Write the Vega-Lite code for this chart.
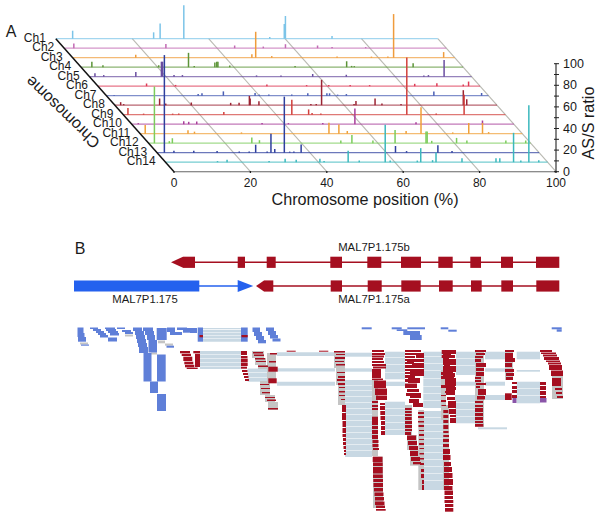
{
"$schema":"https://vega.github.io/schema/vega-lite/v6.json",
"width":600,"height":518,"padding":0,"autosize":{"type":"none"},
"background":"white",
"config":{"view":{"stroke":null},"text":{"font":"Liberation Sans","fill":"#1a1a1a"}},
"datasets":{
"chroms":[{"c":1,"name":"Ch1"},{"c":2,"name":"Ch2"},{"c":3,"name":"Ch3"},{"c":4,"name":"Ch4"},{"c":5,"name":"Ch5"},{"c":6,"name":"Ch6"},{"c":7,"name":"Ch7"},{"c":8,"name":"Ch8"},{"c":9,"name":"Ch9"},{"c":10,"name":"Ch10"},{"c":11,"name":"Ch11"},{"c":12,"name":"Ch12"},{"c":13,"name":"Ch13"},{"c":14,"name":"Ch14"}],
"bars":[
{"c":1,"p":4.4,"r":7.4},{"c":1,"p":25.6,"r":5.9},{"c":1,"p":27.3,"r":14},{"c":1,"p":33.5,"r":31},{"c":1,"p":56,"r":1.6},{"c":1,"p":59.8,"r":13.6},{"c":1,"p":60.1,"r":21},{"c":1,"p":72.3,"r":2.5},
{"c":2,"p":2.5,"r":4.3},{"c":2,"p":26.6,"r":4},{"c":2,"p":44.6,"r":2.5},{"c":2,"p":52.1,"r":1.5},{"c":2,"p":57.9,"r":3.7},{"c":2,"p":66.3,"r":2.5},{"c":2,"p":70.1,"r":1},{"c":2,"p":78.9,"r":1},
{"c":3,"p":16.5,"r":2.8},{"c":3,"p":46.9,"r":3.1},{"c":3,"p":47.9,"r":24},{"c":3,"p":52.1,"r":1.5},{"c":3,"p":69.2,"r":1},{"c":3,"p":78.2,"r":1},{"c":3,"p":82.5,"r":1},{"c":3,"p":84,"r":40.4},{"c":3,"p":97.1,"r":5.2},
{"c":4,"p":2.8,"r":5},{"c":4,"p":5.7,"r":1.8},{"c":4,"p":20.3,"r":1.8},{"c":4,"p":28.1,"r":13.3},{"c":4,"p":29.6,"r":1},{"c":4,"p":35,"r":4.3},{"c":4,"p":35.5,"r":5},{"c":4,"p":35.8,"r":5},{"c":4,"p":38.9,"r":1.5},{"c":4,"p":56,"r":1},{"c":4,"p":69.5,"r":5.5},{"c":4,"p":70.8,"r":1.2},{"c":4,"p":71.5,"r":1},{"c":4,"p":86.9,"r":3.7},
{"c":5,"p":1.4,"r":3.1},{"c":5,"p":3.7,"r":1.5},{"c":5,"p":12.1,"r":4.3},{"c":5,"p":18.8,"r":13.9},{"c":5,"p":19.1,"r":13.9},{"c":5,"p":22.1,"r":1.5},{"c":5,"p":24.3,"r":1.5},{"c":5,"p":43.7,"r":1.2},{"c":5,"p":50.1,"r":1},{"c":5,"p":58.4,"r":2.5},{"c":5,"p":67.2,"r":1.8},{"c":5,"p":87.5,"r":1},{"c":5,"p":88.7,"r":1.5},{"c":5,"p":92.8,"r":15.4},
{"c":6,"p":12.7,"r":2.5},{"c":6,"p":20.3,"r":1.2},{"c":6,"p":44.2,"r":1.5},{"c":6,"p":54.6,"r":1},{"c":6,"p":60.4,"r":1.2},{"c":6,"p":66,"r":1},{"c":6,"p":71.1,"r":1},{"c":6,"p":82.9,"r":2.2},{"c":6,"p":88.7,"r":2.8},{"c":6,"p":95.6,"r":1.5},{"c":6,"p":97,"r":4.3},
{"c":7,"p":2,"r":0.6},{"c":7,"p":24,"r":1.5},{"c":7,"p":25,"r":2.2},{"c":7,"p":30.6,"r":4},{"c":7,"p":38.9,"r":2.5},{"c":7,"p":40,"r":1},{"c":7,"p":42.5,"r":1},{"c":7,"p":48.5,"r":1},{"c":7,"p":52.7,"r":2.2},{"c":7,"p":57.7,"r":2.2},{"c":7,"p":58.4,"r":2.2},{"c":7,"p":60.5,"r":1},{"c":7,"p":62.8,"r":1.5},{"c":7,"p":85.7,"r":4},{"c":7,"p":98.2,"r":2.5},
{"c":8,"p":1.5,"r":2.8},{"c":8,"p":2.3,"r":1},{"c":8,"p":11.7,"r":6.2},{"c":8,"p":13.3,"r":1.5},{"c":8,"p":20,"r":2.5},{"c":8,"p":30.3,"r":2.2},{"c":8,"p":32.5,"r":2.2},{"c":8,"p":35.2,"r":8.6},{"c":8,"p":35.4,"r":6.2},{"c":8,"p":37.7,"r":3.7},{"c":8,"p":51.3,"r":1},{"c":8,"p":52.7,"r":1.2},{"c":8,"p":54.1,"r":23.5},{"c":8,"p":62.6,"r":1},{"c":8,"p":63.1,"r":4},{"c":8,"p":68.1,"r":6.2},{"c":8,"p":69.9,"r":1.5},{"c":8,"p":74.9,"r":1},{"c":8,"p":91.2,"r":13.9},{"c":8,"p":92.1,"r":5.5},
{"c":9,"p":1.2,"r":6.2},{"c":9,"p":5.3,"r":1},{"c":9,"p":12.9,"r":1},{"c":9,"p":14.5,"r":1},{"c":9,"p":26.3,"r":2.5},{"c":9,"p":44.1,"r":13.9},{"c":9,"p":48.5,"r":4.9},{"c":9,"p":49.4,"r":1.5},{"c":9,"p":51.7,"r":1},{"c":9,"p":74.2,"r":53},{"c":9,"p":81.9,"r":1},{"c":9,"p":89.2,"r":18.5},
{"c":10,"p":1.7,"r":1},{"c":10,"p":13.6,"r":2.8},{"c":10,"p":14.9,"r":2.2},{"c":10,"p":17,"r":2.5},{"c":10,"p":34.1,"r":1},{"c":10,"p":41,"r":1},{"c":10,"p":50,"r":1},{"c":10,"p":58.4,"r":14.5},{"c":10,"p":74.4,"r":1.9},{"c":10,"p":91.8,"r":3.4},
{"c":11,"p":1.3,"r":8},{"c":11,"p":12.5,"r":3.1},{"c":11,"p":14.2,"r":1.9},{"c":11,"p":26.5,"r":1.2},{"c":11,"p":49.4,"r":10.2},{"c":11,"p":52,"r":8.6},{"c":11,"p":54.2,"r":2.5},{"c":11,"p":69.6,"r":2.5},{"c":11,"p":73.5,"r":24.4},{"c":11,"p":81.8,"r":1.2},{"c":11,"p":86,"r":9.9},{"c":11,"p":89.6,"r":9.9},{"c":11,"p":91.2,"r":1.5},
{"c":12,"p":1.5,"r":52.5},{"c":12,"p":5.4,"r":1.9},{"c":12,"p":6.2,"r":4.6},{"c":12,"p":27,"r":5.2},{"c":12,"p":29,"r":2.8},{"c":12,"p":50.3,"r":2.5},{"c":12,"p":53.2,"r":7.7},{"c":12,"p":58.7,"r":2.5},{"c":12,"p":64.5,"r":12.3},{"c":12,"p":72.6,"r":10.8},{"c":12,"p":72.9,"r":10.8},{"c":12,"p":74.1,"r":2.2},{"c":12,"p":80.6,"r":4.9},{"c":12,"p":83.3,"r":2.5},{"c":12,"p":93.5,"r":2.5},{"c":12,"p":98.7,"r":2.5},
{"c":13,"p":1.9,"r":90.4},{"c":13,"p":4.4,"r":1.9},{"c":13,"p":9.6,"r":1.9},{"c":13,"p":15.7,"r":1.5},{"c":13,"p":21.5,"r":1},{"c":13,"p":24.1,"r":1.2},{"c":13,"p":25.8,"r":7.4},{"c":13,"p":28.8,"r":1},{"c":13,"p":29.8,"r":17.6},{"c":13,"p":30.8,"r":3.4},{"c":13,"p":33.3,"r":51.9},{"c":13,"p":34.7,"r":1},{"c":13,"p":35.8,"r":1},{"c":13,"p":37.7,"r":7.7},{"c":13,"p":62.4,"r":6.2},{"c":13,"p":65.3,"r":1.5},{"c":13,"p":73.5,"r":6.8},{"c":13,"p":77.2,"r":1.5},
{"c":14,"p":13.6,"r":1},{"c":14,"p":16.1,"r":2.2},{"c":14,"p":27.1,"r":1},{"c":14,"p":31.3,"r":3.1},{"c":14,"p":34.2,"r":2.2},{"c":14,"p":40.4,"r":3.1},{"c":14,"p":41.5,"r":1.2},{"c":14,"p":47.8,"r":10.5},{"c":14,"p":50.7,"r":1.5},{"c":14,"p":57.5,"r":34.6},{"c":14,"p":58.8,"r":1.5},{"c":14,"p":65.9,"r":1.5},{"c":14,"p":66.8,"r":13},{"c":14,"p":69.9,"r":1.9},{"c":14,"p":70.8,"r":9},{"c":14,"p":77.6,"r":3.7},{"c":14,"p":86.5,"r":3.7},{"c":14,"p":87.5,"r":3.7},{"c":14,"p":91.1,"r":27.2},{"c":14,"p":93,"r":1.5},{"c":14,"p":95.1,"r":52.8},{"c":14,"p":97.7,"r":1.9}
],
"xt":[{"p":0},{"p":20},{"p":40},{"p":60},{"p":80},{"p":100}],
"zt":[{"r":0,"l":"0"},{"r":10},{"r":20,"l":"20"},{"r":30},{"r":40,"l":"40"},{"r":50},{"r":60,"l":"60"},{"r":70},{"r":80,"l":"80"},{"r":90},{"r":100,"l":"100"}],
"exons":[
{"g":"r","s":183,"e":195,"y":262.3},{"g":"r","s":237.7,"e":245,"y":262.3},{"g":"r","s":266.7,"e":275.7,"y":262.3},{"g":"r","s":330.3,"e":342,"y":262.3},{"g":"r","s":367.3,"e":381.3,"y":262.3},{"g":"r","s":401,"e":421,"y":262.3},{"g":"r","s":438.3,"e":452.7,"y":262.3},{"g":"r","s":470.3,"e":481,"y":262.3},{"g":"r","s":501,"e":513,"y":262.3},{"g":"r","s":536,"e":559.3,"y":262.3},
{"g":"r","s":264,"e":273.3,"y":286},{"g":"r","s":330.7,"e":342,"y":286},{"g":"r","s":367.7,"e":381.7,"y":286},{"g":"r","s":401.3,"e":420.7,"y":286},{"g":"r","s":439,"e":452.7,"y":286},{"g":"r","s":471,"e":481.7,"y":286},{"g":"r","s":501.3,"e":513,"y":286},{"g":"r","s":536.3,"e":559.3,"y":286},
{"g":"b","s":74,"e":199.3,"y":286}
],
"introns":[{"g":"r","s":190,"e":540,"y":262.3},{"g":"r","s":270,"e":540,"y":286},{"g":"b","s":199,"e":240,"y":286}],
"reads":[
{"k":"j","s":203,"e":241,"t":328,"b":329.3},{"k":"j","s":203,"e":241,"t":330,"b":332},{"k":"j","s":203,"e":241,"t":332.5,"b":335},{"k":"j","s":203,"e":241,"t":335.5,"b":338},{"k":"j","s":203,"e":241,"t":338.5,"b":341.7},
{"k":"j","s":200,"e":241,"t":351,"b":354},{"k":"j","s":200,"e":241,"t":354.5,"b":358},{"k":"j","s":200,"e":241,"t":358.5,"b":362},{"k":"j","s":200,"e":241,"t":362.5,"b":366},{"k":"j","s":200,"e":241,"t":366.5,"b":369},
{"k":"j","s":247.7,"e":268,"t":368.5,"b":372},{"k":"j","s":247.7,"e":268,"t":372.5,"b":377},{"k":"j","s":247.7,"e":268,"t":377.5,"b":381.7},
{"k":"j","s":276.7,"e":335,"t":352.3,"b":356},{"k":"j","s":276.7,"e":335,"t":368.3,"b":371.5},{"k":"j","s":277,"e":335,"t":381.7,"b":385.7},
{"k":"j","s":345,"e":372,"t":352.7,"b":356.7},{"k":"j","s":345,"e":372,"t":368.3,"b":371.7},
{"k":"j","s":345,"e":372,"t":380,"b":385},{"k":"j","s":345,"e":372,"t":385.5,"b":390},{"k":"j","s":345,"e":372,"t":390.5,"b":396},{"k":"j","s":345,"e":372,"t":396.5,"b":402},{"k":"j","s":345,"e":372,"t":402.5,"b":408},{"k":"j","s":345,"e":372,"t":408.5,"b":414},{"k":"j","s":345,"e":372,"t":414.5,"b":420},{"k":"j","s":345,"e":372,"t":420.5,"b":426},{"k":"j","s":345,"e":372,"t":426.5,"b":432},{"k":"j","s":345,"e":372,"t":432.5,"b":438},{"k":"j","s":345,"e":372,"t":438.5,"b":444},{"k":"j","s":345,"e":372,"t":444.5,"b":450},{"k":"j","s":345,"e":372,"t":450.5,"b":457},
{"k":"j","s":385,"e":405,"t":351.7,"b":357},{"k":"j","s":385,"e":405,"t":357.5,"b":364},{"k":"j","s":385,"e":405,"t":364.5,"b":372},{"k":"j","s":385,"e":405,"t":372.5,"b":379.3},{"k":"j","s":385,"e":405,"t":381.7,"b":386},{"k":"j","s":385,"e":405,"t":401.7,"b":408},{"k":"j","s":385,"e":405,"t":408.5,"b":415},{"k":"j","s":385,"e":405,"t":415.5,"b":422},{"k":"j","s":385,"e":405,"t":422.5,"b":429},{"k":"j","s":385,"e":405,"t":429.5,"b":435},
{"k":"j","s":423.3,"e":443.3,"t":351.7,"b":356},{"k":"j","s":423.3,"e":443.3,"t":356.5,"b":363},{"k":"j","s":423.3,"e":443.3,"t":363.5,"b":370},{"k":"j","s":423.3,"e":443.3,"t":370.5,"b":378},{"k":"j","s":423.3,"e":443.3,"t":378.5,"b":386},{"k":"j","s":423.3,"e":443.3,"t":386.5,"b":393},{"k":"j","s":423.3,"e":443.3,"t":393.5,"b":400},{"k":"j","s":423.3,"e":443.3,"t":400.5,"b":408},{"k":"j","s":423.3,"e":443.3,"t":411,"b":417},{"k":"j","s":423.3,"e":443.3,"t":417.5,"b":424},{"k":"j","s":423.3,"e":443.3,"t":424.5,"b":431},{"k":"j","s":423.3,"e":443.3,"t":431.5,"b":438},{"k":"j","s":423.3,"e":443.3,"t":438.5,"b":445},{"k":"j","s":423.3,"e":443.3,"t":445.5,"b":452},{"k":"j","s":423.3,"e":443.3,"t":452.5,"b":459},{"k":"j","s":423.3,"e":443.3,"t":459.5,"b":466},{"k":"j","s":423.3,"e":443.3,"t":466.5,"b":473},{"k":"j","s":423.3,"e":443.3,"t":473.5,"b":480},{"k":"j","s":423.3,"e":443.3,"t":480.5,"b":490},
{"k":"j","s":456,"e":475,"t":351.7,"b":358},{"k":"j","s":456,"e":475,"t":358.5,"b":365},{"k":"j","s":456,"e":475,"t":365.5,"b":375},{"k":"j","s":456,"e":475,"t":381.7,"b":385.7},{"k":"j","s":455,"e":476,"t":395,"b":402},{"k":"j","s":455,"e":476,"t":402.5,"b":409},{"k":"j","s":455,"e":476,"t":409.5,"b":416},{"k":"j","s":455,"e":476,"t":416.5,"b":423.3},
{"k":"j","s":485,"e":505,"t":351.7,"b":359.3},{"k":"j","s":485,"e":505,"t":368.3,"b":371.7},{"k":"j","s":485,"e":505,"t":381.7,"b":385.7},{"k":"j","s":485,"e":505,"t":395,"b":400},
{"k":"j","s":516.7,"e":540,"t":351.7,"b":359.3},{"k":"j","s":516.7,"e":540,"t":370,"b":371.7},{"k":"j","s":516.7,"e":540,"t":381.7,"b":388},{"k":"j","s":516.7,"e":540,"t":388.5,"b":395},{"k":"j","s":516.7,"e":540,"t":395.5,"b":403.3},
{"k":"j","s":478,"e":507,"t":427.3,"b":429.3},
{"k":"g","s":252,"e":264,"t":351,"b":358},{"k":"g","s":255,"e":266,"t":358,"b":365},{"k":"g","s":258,"e":268,"t":365,"b":369},{"k":"g","s":267,"e":276,"t":353,"b":381},{"k":"g","s":260,"e":270,"t":381,"b":395},{"k":"g","s":265,"e":275,"t":395,"b":402},{"k":"g","s":268,"e":278,"t":402,"b":410},
{"k":"g","s":334,"e":345,"t":351,"b":368},{"k":"g","s":336,"e":345,"t":368,"b":385},{"k":"g","s":338,"e":345,"t":385,"b":405},
{"k":"g","s":372,"e":378,"t":380,"b":456},{"k":"g","s":373,"e":383,"t":456.7,"b":508},{"k":"g","s":405,"e":412,"t":405,"b":435},{"k":"g","s":407,"e":417,"t":435,"b":450},{"k":"g","s":410,"e":420,"t":450,"b":465.7},
{"k":"g","s":418.3,"e":424,"t":410,"b":490},{"k":"g","s":443,"e":449,"t":405,"b":490},{"k":"g","s":441,"e":446,"t":370,"b":420},{"k":"g","s":475,"e":484,"t":350,"b":427},{"k":"g","s":505,"e":513,"t":350,"b":380},{"k":"g","s":552,"e":563,"t":376,"b":399},{"k":"g","s":125,"e":133,"t":334.5,"b":336.5},{"k":"g","s":158,"e":165,"t":340.5,"b":343.3},{"k":"g","s":165,"e":173,"t":343.5,"b":345.7},{"k":"g","s":151,"e":157,"t":352.5,"b":354.5},{"k":"g","s":80,"e":88,"t":342.5,"b":344.5},
{"k":"l","s":77.5,"e":83.5,"t":327.5,"b":333},{"k":"l","s":77.5,"e":84.5,"t":333,"b":337},{"k":"l","s":78,"e":86,"t":337,"b":341.7},{"k":"l","s":81,"e":89,"t":344.5,"b":345.7},
{"k":"l","s":90,"e":98,"t":327.5,"b":329},{"k":"l","s":93,"e":101,"t":329,"b":331},{"k":"l","s":96,"e":104,"t":331,"b":333},{"k":"l","s":98,"e":106,"t":333,"b":335},{"k":"l","s":100,"e":108,"t":335,"b":337.5},
{"k":"l","s":105,"e":115,"t":327.5,"b":329},{"k":"l","s":106,"e":116,"t":329,"b":331},{"k":"l","s":108,"e":118,"t":331,"b":333},{"k":"l","s":110,"e":119,"t":333,"b":335.5},{"k":"l","s":108,"e":117,"t":337.5,"b":341.5},
{"k":"l","s":117,"e":125,"t":327.5,"b":329},{"k":"l","s":122,"e":131,"t":330,"b":332},{"k":"l","s":125,"e":133,"t":332,"b":334},
{"k":"l","s":133,"e":142,"t":327.5,"b":331},{"k":"l","s":135,"e":144,"t":331,"b":335},{"k":"l","s":136,"e":145,"t":335,"b":339},{"k":"l","s":137,"e":146,"t":339,"b":343},{"k":"l","s":138,"e":147,"t":343,"b":347},{"k":"l","s":139,"e":148,"t":347,"b":353},
{"k":"l","s":143,"e":153,"t":327.5,"b":331},{"k":"l","s":145,"e":154,"t":331,"b":335},{"k":"l","s":147,"e":155,"t":335,"b":340},{"k":"l","s":148.5,"e":157,"t":340,"b":352.5},
{"k":"l","s":143.5,"e":151.5,"t":353,"b":381.5},{"k":"l","s":150,"e":158,"t":381.5,"b":393},{"k":"l","s":157,"e":166,"t":394,"b":411},{"k":"l","s":157,"e":165.7,"t":354.5,"b":381.5},
{"k":"l","s":156.7,"e":166.7,"t":328,"b":340},{"k":"l","s":166.5,"e":174,"t":345.7,"b":347.7},{"k":"l","s":167,"e":175,"t":327.5,"b":332},{"k":"l","s":170,"e":182,"t":332,"b":335},{"k":"l","s":177,"e":187,"t":327.5,"b":330},{"k":"l","s":183,"e":193,"t":330,"b":332.7},{"k":"l","s":185,"e":192,"t":328,"b":332},{"k":"l","s":190,"e":197,"t":328,"b":333},
{"k":"l","s":197.7,"e":203,"t":327.5,"b":341.7},{"k":"l","s":241,"e":247.7,"t":327.5,"b":341.7},
{"k":"l","s":252.5,"e":260,"t":327.5,"b":332},{"k":"l","s":254,"e":262,"t":332,"b":336},{"k":"l","s":256,"e":264,"t":336,"b":340},{"k":"l","s":258,"e":266,"t":340,"b":343.3},
{"k":"l","s":266,"e":274,"t":327.5,"b":331},{"k":"l","s":268,"e":276,"t":331,"b":335},{"k":"l","s":270,"e":278,"t":335,"b":338.5},{"k":"l","s":272.5,"e":280.5,"t":338.5,"b":341.5},
{"k":"l","s":361.7,"e":371.7,"t":327.3,"b":329.3},{"k":"l","s":391.7,"e":401.7,"t":327.3,"b":329.3},{"k":"l","s":396.7,"e":407.3,"t":329.3,"b":331},{"k":"l","s":407.3,"e":425,"t":327.3,"b":329.3},{"k":"l","s":403.3,"e":420,"t":331,"b":335},{"k":"l","s":410,"e":421.7,"t":335,"b":340},{"k":"l","s":440.7,"e":448.3,"t":327.3,"b":329.3},{"k":"l","s":448.3,"e":456.7,"t":329.7,"b":331.7},{"k":"l","s":551.7,"e":561.7,"t":327.3,"b":329.3},{"k":"l","s":556.7,"e":561.7,"t":329.3,"b":331.7},
{"k":"r","s":199.5,"e":203,"t":335,"b":337.3},{"k":"r","s":241.5,"e":247.7,"t":335,"b":337.3},
{"k":"r","s":180,"e":190,"t":351,"b":353.3},{"k":"r","s":181.7,"e":191,"t":353.8,"b":356},{"k":"r","s":183.3,"e":192.3,"t":356.7,"b":361},{"k":"r","s":184.3,"e":193.3,"t":361.7,"b":364.3},{"k":"r","s":185,"e":194.3,"t":364.8,"b":367.3},{"k":"r","s":186.7,"e":197.7,"t":367.6,"b":369},{"k":"r","s":193.3,"e":200,"t":351,"b":353.3},{"k":"r","s":195,"e":200,"t":353.8,"b":367},
{"k":"r","s":241,"e":247,"t":351,"b":355},{"k":"r","s":241,"e":247.5,"t":356,"b":358},{"k":"r","s":241,"e":247.7,"t":358.5,"b":362},{"k":"r","s":241,"e":247.7,"t":362.5,"b":366},{"k":"r","s":241,"e":247,"t":366.7,"b":368.7},{"k":"r","s":242,"e":247.5,"t":370,"b":372},{"k":"r","s":243,"e":248,"t":373,"b":375},{"k":"r","s":244,"e":248.5,"t":376,"b":378},{"k":"r","s":245,"e":249,"t":379,"b":381},
{"k":"r","s":253,"e":263,"t":352,"b":353.5},{"k":"r","s":254,"e":264,"t":354.5,"b":356},{"k":"r","s":255,"e":265,"t":358,"b":359.5},{"k":"r","s":256,"e":266,"t":361,"b":362},{"k":"r","s":258,"e":268,"t":365.5,"b":367},
{"k":"r","s":270,"e":277,"t":353,"b":354.5},{"k":"r","s":269,"e":276,"t":361,"b":362.5},{"k":"r","s":268.3,"e":277.7,"t":366.7,"b":371.7},{"k":"r","s":268.3,"e":276.7,"t":378.3,"b":383.3},{"k":"r","s":286.7,"e":295.7,"t":350.7,"b":351.7},{"k":"r","s":319,"e":328.3,"t":350.7,"b":351.7},
{"k":"r","s":260,"e":269,"t":384,"b":385},{"k":"r","s":261,"e":270,"t":388,"b":389},{"k":"r","s":262,"e":270,"t":392,"b":393.3},{"k":"r","s":265,"e":275,"t":397,"b":398},{"k":"r","s":267,"e":276,"t":399.5,"b":401},{"k":"r","s":268,"e":278,"t":408,"b":409.5},
{"k":"r","s":334,"e":345,"t":351,"b":352.5},{"k":"r","s":336,"e":345,"t":354,"b":355},{"k":"r","s":335,"e":345,"t":357,"b":359},{"k":"r","s":335,"e":344,"t":361,"b":362},{"k":"r","s":336,"e":345,"t":364,"b":365.5},{"k":"r","s":337,"e":345,"t":372,"b":373},{"k":"r","s":338,"e":345,"t":376,"b":378},{"k":"r","s":337,"e":345,"t":379,"b":381},{"k":"r","s":338,"e":345,"t":383,"b":385},{"k":"r","s":339,"e":345,"t":387,"b":388},{"k":"r","s":339,"e":345,"t":391,"b":392.5},{"k":"r","s":339,"e":345,"t":395,"b":396},{"k":"r","s":341,"e":345,"t":399,"b":400},
{"k":"r","s":342,"e":346,"t":405,"b":412},{"k":"r","s":342,"e":346,"t":413,"b":420},{"k":"r","s":342.5,"e":346,"t":421,"b":427},{"k":"r","s":342.5,"e":346,"t":428,"b":433},{"k":"r","s":342.5,"e":346,"t":434,"b":437},{"k":"r","s":343,"e":346,"t":438,"b":441},{"k":"r","s":343,"e":346,"t":442,"b":445},{"k":"r","s":343.5,"e":346,"t":446,"b":449},{"k":"r","s":344,"e":346,"t":450,"b":452},{"k":"r","s":344,"e":346,"t":453,"b":455},
{"k":"r","s":372,"e":384,"t":350,"b":352},{"k":"r","s":372,"e":385,"t":353,"b":355},{"k":"r","s":372,"e":384,"t":355.5,"b":357.5},{"k":"r","s":372,"e":383,"t":358,"b":360},{"k":"r","s":372,"e":384,"t":361,"b":363},{"k":"r","s":372,"e":386,"t":364,"b":366},{"k":"r","s":373,"e":386,"t":366.5,"b":368.5},{"k":"r","s":372,"e":381,"t":369,"b":378},{"k":"r","s":372,"e":383,"t":378.5,"b":380},{"k":"r","s":374,"e":386,"t":380.5,"b":388},{"k":"r","s":375,"e":387,"t":388.5,"b":395},{"k":"r","s":376,"e":387,"t":395.5,"b":400},
{"k":"r","s":372,"e":378,"t":401,"b":403},{"k":"r","s":372,"e":378,"t":405,"b":407},{"k":"r","s":372,"e":378,"t":408,"b":410},{"k":"r","s":372,"e":378,"t":416.7,"b":425},{"k":"r","s":372,"e":378,"t":426,"b":429},{"k":"r","s":372,"e":378,"t":430,"b":434},{"k":"r","s":372,"e":378,"t":435,"b":439},{"k":"r","s":372.5,"e":378.5,"t":440,"b":443},{"k":"r","s":372.5,"e":378.5,"t":444,"b":447},{"k":"r","s":373,"e":379,"t":448,"b":450},
{"k":"r","s":372.7,"e":382.5,"t":456.7,"b":462},{"k":"r","s":373,"e":382.7,"t":462.5,"b":466},{"k":"r","s":373,"e":382.7,"t":467,"b":473.5},{"k":"r","s":373,"e":382.8,"t":474.5,"b":478},{"k":"r","s":373.3,"e":383,"t":479,"b":482},{"k":"r","s":373.5,"e":383,"t":483,"b":487},{"k":"r","s":374,"e":383,"t":488,"b":491.5},{"k":"r","s":374.5,"e":383.5,"t":492.5,"b":496},{"k":"r","s":375,"e":384,"t":497,"b":500.5},{"k":"r","s":375,"e":384.5,"t":501.5,"b":505},{"k":"r","s":376,"e":385,"t":505.5,"b":508},{"k":"r","s":376,"e":385.7,"t":509,"b":510.7},
{"k":"r","s":380,"e":385,"t":403,"b":405},{"k":"r","s":380,"e":385,"t":406,"b":410},{"k":"r","s":380.3,"e":385,"t":411,"b":415},{"k":"r","s":380.5,"e":385,"t":416,"b":420},{"k":"r","s":381,"e":385,"t":421,"b":425},{"k":"r","s":381,"e":385,"t":426,"b":430},{"k":"r","s":381,"e":385,"t":431,"b":435},
{"k":"r","s":405,"e":421,"t":350,"b":352},{"k":"r","s":405,"e":416,"t":353,"b":355},{"k":"r","s":416,"e":424,"t":353,"b":358},{"k":"r","s":405,"e":415,"t":356,"b":358},{"k":"r","s":405,"e":418,"t":359,"b":361},{"k":"r","s":407,"e":424,"t":359,"b":362},{"k":"r","s":405,"e":414,"t":362,"b":364},{"k":"r","s":412,"e":424,"t":363,"b":368},{"k":"r","s":405,"e":415,"t":365,"b":368},{"k":"r","s":405,"e":416,"t":369,"b":371},{"k":"r","s":410,"e":424,"t":369,"b":376},{"k":"r","s":405,"e":417,"t":372,"b":374},{"k":"r","s":405,"e":415,"t":375,"b":378},{"k":"r","s":408,"e":420,"t":378,"b":383},{"k":"r","s":405,"e":413,"t":379,"b":382},{"k":"r","s":405,"e":417,"t":383.5,"b":388},{"k":"r","s":407,"e":419,"t":389,"b":392},{"k":"r","s":406,"e":415,"t":393,"b":396},{"k":"r","s":410,"e":421,"t":393,"b":398},{"k":"r","s":409,"e":419,"t":399,"b":403},{"k":"r","s":413,"e":423,"t":403,"b":407},
{"k":"r","s":405,"e":411.7,"t":408,"b":410},{"k":"r","s":405,"e":411.7,"t":411,"b":413},{"k":"r","s":405,"e":411.7,"t":414,"b":416},{"k":"r","s":405,"e":411.7,"t":417,"b":420},{"k":"r","s":405,"e":412,"t":421,"b":424},{"k":"r","s":405,"e":412,"t":425,"b":428},{"k":"r","s":405,"e":412,"t":429,"b":431},{"k":"r","s":405,"e":411,"t":432,"b":435},
{"k":"r","s":407,"e":416,"t":435.5,"b":440},{"k":"r","s":408,"e":417,"t":441,"b":445},{"k":"r","s":409,"e":418,"t":446,"b":450},{"k":"r","s":410,"e":418,"t":451,"b":456},{"k":"r","s":411,"e":420,"t":457,"b":461},{"k":"r","s":413,"e":421,"t":462,"b":464.3},
{"k":"r","s":418,"e":424,"t":412,"b":414},{"k":"r","s":418,"e":424,"t":416,"b":418},{"k":"r","s":418,"e":424,"t":421,"b":422.5},{"k":"r","s":418.5,"e":424,"t":425,"b":427},{"k":"r","s":419,"e":424,"t":430,"b":431},{"k":"r","s":419,"e":424,"t":434,"b":436},{"k":"r","s":419,"e":424,"t":439,"b":440},{"k":"r","s":419,"e":424,"t":443,"b":445},{"k":"r","s":419.5,"e":424,"t":448,"b":449},{"k":"r","s":419.5,"e":424,"t":453,"b":454.5},{"k":"r","s":420,"e":424,"t":458,"b":459.5},{"k":"r","s":420,"e":424,"t":463,"b":465},{"k":"r","s":421,"e":424,"t":469,"b":472},{"k":"r","s":421,"e":424,"t":474,"b":478},{"k":"r","s":422,"e":424,"t":480,"b":484},{"k":"r","s":422,"e":424,"t":485,"b":490},
{"k":"r","s":443,"e":450,"t":350,"b":352},{"k":"r","s":443,"e":451,"t":354,"b":356},{"k":"r","s":443,"e":449,"t":357,"b":360},{"k":"r","s":444,"e":452,"t":361,"b":364},{"k":"r","s":444,"e":450,"t":365,"b":368},{"k":"r","s":444,"e":453,"t":369,"b":375},{"k":"r","s":445,"e":454,"t":376,"b":384},{"k":"r","s":446,"e":455,"t":385,"b":395},{"k":"r","s":447,"e":455,"t":397,"b":400},{"k":"r","s":448,"e":456,"t":401,"b":408},{"k":"r","s":449,"e":456,"t":409,"b":414},{"k":"r","s":450,"e":456,"t":415,"b":417},{"k":"r","s":450,"e":456,"t":418,"b":423},
{"k":"r","s":443.3,"e":448.3,"t":410,"b":413},{"k":"r","s":443.3,"e":448.3,"t":415,"b":418},{"k":"r","s":443.3,"e":448.3,"t":420,"b":423},{"k":"r","s":443.3,"e":448.3,"t":425,"b":429},{"k":"r","s":443.3,"e":448.5,"t":431,"b":433},{"k":"r","s":443.3,"e":449,"t":435,"b":437},{"k":"r","s":443,"e":449,"t":439,"b":442},{"k":"r","s":443,"e":449,"t":444,"b":447},{"k":"r","s":443,"e":450,"t":449,"b":454},{"k":"r","s":443,"e":450.5,"t":455,"b":460},{"k":"r","s":444,"e":451,"t":462,"b":466},{"k":"r","s":444,"e":452,"t":467,"b":472},{"k":"r","s":444,"e":452.5,"t":473,"b":478},{"k":"r","s":444,"e":453,"t":479,"b":485},{"k":"r","s":444,"e":452.5,"t":486,"b":490},{"k":"r","s":444.5,"e":453,"t":490.5,"b":495},{"k":"r","s":444.5,"e":453,"t":496,"b":499},{"k":"r","s":444.5,"e":453.3,"t":500,"b":503},{"k":"r","s":445,"e":453.3,"t":504,"b":507},{"k":"r","s":445,"e":453.3,"t":508,"b":511.7},
{"k":"r","s":441.7,"e":456,"t":350,"b":354},{"k":"r","s":441.7,"e":455,"t":355,"b":358},{"k":"r","s":443,"e":456,"t":359,"b":365},{"k":"r","s":443,"e":456,"t":366,"b":372},{"k":"r","s":443,"e":455,"t":373,"b":377},{"k":"r","s":445,"e":456,"t":378,"b":386},{"k":"r","s":446,"e":456,"t":387,"b":390},{"k":"r","s":445,"e":455,"t":391,"b":393},{"k":"r","s":441,"e":445,"t":372,"b":375},{"k":"r","s":441,"e":445,"t":376,"b":379},{"k":"r","s":441,"e":446,"t":385,"b":388},{"k":"r","s":441,"e":446,"t":395,"b":396},{"k":"r","s":441,"e":446,"t":400,"b":402},{"k":"r","s":441.5,"e":446,"t":405,"b":406},
{"k":"r","s":475,"e":486,"t":350,"b":352},{"k":"r","s":476,"e":485,"t":353,"b":355},{"k":"r","s":475,"e":483,"t":356,"b":358},{"k":"r","s":475,"e":481,"t":359,"b":362},{"k":"r","s":476,"e":486,"t":363,"b":367},{"k":"r","s":476,"e":484,"t":368,"b":371},{"k":"r","s":476,"e":484,"t":372,"b":376},{"k":"r","s":475,"e":481,"t":377,"b":379},{"k":"r","s":475,"e":481,"t":380,"b":382},{"k":"r","s":476,"e":486,"t":383,"b":385},{"k":"r","s":476,"e":480,"t":386,"b":388},{"k":"r","s":478,"e":486,"t":389,"b":395},{"k":"r","s":477,"e":485,"t":396,"b":399.5},{"k":"r","s":475,"e":483,"t":401,"b":403},{"k":"r","s":475,"e":483,"t":405,"b":407},{"k":"r","s":475,"e":483,"t":408,"b":412},{"k":"r","s":475,"e":483,"t":413,"b":416},{"k":"r","s":475,"e":483,"t":417,"b":420},{"k":"r","s":475,"e":483,"t":421,"b":423},{"k":"r","s":475,"e":483.3,"t":424,"b":426.7},
{"k":"r","s":505,"e":514,"t":350,"b":352},{"k":"r","s":505,"e":513,"t":353,"b":358},{"k":"r","s":505,"e":515,"t":358,"b":362},{"k":"r","s":505,"e":512,"t":363,"b":367},{"k":"r","s":505,"e":514,"t":369,"b":372},{"k":"r","s":506,"e":514,"t":373,"b":376},{"k":"r","s":506,"e":513,"t":377,"b":380},{"k":"r","s":505,"e":511.7,"t":393.3,"b":400},
{"k":"r","s":512,"e":517,"t":382,"b":384},{"k":"r","s":512,"e":517,"t":386,"b":389},{"k":"r","s":512,"e":517,"t":390,"b":393},{"k":"r","s":512,"e":517,"t":395,"b":398},{"k":"p","s":512.5,"e":516.5,"t":398,"b":403},
{"k":"r","s":540,"e":546,"t":382,"b":385},{"k":"r","s":540,"e":546,"t":386,"b":390},{"k":"r","s":540,"e":546,"t":391,"b":395},{"k":"r","s":540,"e":546,"t":396,"b":398},{"k":"p","s":540,"e":546.5,"t":398,"b":402.5},
{"k":"r","s":540,"e":552,"t":350,"b":352},{"k":"r","s":541,"e":556,"t":352.5,"b":354},{"k":"r","s":543,"e":557,"t":354.5,"b":356.5},{"k":"r","s":544,"e":559,"t":357,"b":360},{"k":"r","s":546,"e":560,"t":360.5,"b":362},{"k":"r","s":548,"e":561,"t":362.5,"b":364.5},{"k":"r","s":549,"e":562,"t":365,"b":370},{"k":"r","s":551,"e":563,"t":370.5,"b":376},{"k":"r","s":552,"e":561,"t":378,"b":386},{"k":"r","s":555,"e":562,"t":388,"b":390},{"k":"r","s":556,"e":562,"t":392,"b":394},{"k":"r","s":557,"e":563,"t":396,"b":398}
]
},
"encoding":{
"x":{"field":"x","type":"quantitative","scale":{"domain":[0,600],"nice":false,"zero":false},"axis":null},
"y":{"field":"y","type":"quantitative","scale":{"domain":[518,0],"nice":false,"zero":false},"axis":null}
},
"layer":[
{"data":{"name":"xt"},"transform":[{"filter":"datum.p>0"},{"calculate":"174+3.82*datum.p-8.44*14","as":"x"},{"calculate":"174+3.82*datum.p","as":"xe"},{"calculate":"38.7","as":"y"},{"calculate":"171.7","as":"ye"}],"mark":{"type":"rule","stroke":"#b9b9b2","strokeWidth":1.1},"encoding":{"x2":{"field":"xe"},"y2":{"field":"ye"}}},
{"data":{"name":"chroms"},"transform":[{"calculate":"174-8.44*(15-datum.c)","as":"x"},{"calculate":"datum.x+382","as":"xe"},{"calculate":"171.7-9.5*(15-datum.c)","as":"y"}],"mark":{"type":"rule","strokeWidth":1.2,"opacity":0.7},"encoding":{"x2":{"field":"xe"},"color":{"field":"c","type":"nominal","legend":null,"scale":{"domain":[1,2,3,4,5,6,7,8,9,10,11,12,13,14,"r","b","j","g","l","p"],"range":["#7cc4e8","#c26ab4","#ef9c3c","#5c9438","#6a4ea0","#dd3a55","#4a5fb5","#9a2433","#d2403c","#a83e9a","#f0a038","#7ccc5c","#2e3f9e","#3bb8bd","#a50f20","#2461ee","#c8d8e3","#c4c4c4","#5f7fd8","#8a55a8"]}}}},
{"data":{"name":"bars"},"transform":[{"calculate":"174+3.82*datum.p-8.44*(15-datum.c)","as":"x"},{"calculate":"171.7-9.5*(15-datum.c)","as":"y"},{"calculate":"datum.y-1.08*datum.r","as":"yt"}],"mark":{"type":"rule","strokeWidth":1.5},"encoding":{"y2":{"field":"yt"},"color":{"field":"c","type":"nominal","legend":null}}},
{"data":{"values":[{"x":55.8,"y":38.7,"xe":174,"ye":171.7}]},"mark":{"type":"rule","stroke":"#111","strokeWidth":1.5},"encoding":{"x2":{"field":"xe"},"y2":{"field":"ye"}}},
{"data":{"values":[{"x":174,"y":171.7,"xe":556}]},"mark":{"type":"rule","stroke":"#666","strokeWidth":1.1},"encoding":{"x2":{"field":"xe"}}},
{"data":{"name":"xt"},"transform":[{"calculate":"174+3.82*datum.p","as":"x"},{"calculate":"171","as":"y"},{"calculate":"173","as":"ye"}],"mark":{"type":"rule","stroke":"#222","strokeWidth":1.3},"encoding":{"y2":{"field":"ye"}}},
{"data":{"name":"xt"},"transform":[{"calculate":"174+3.82*datum.p","as":"x"},{"calculate":"183","as":"y"}],"mark":{"type":"text","fontSize":12,"align":"center","baseline":"middle"},"encoding":{"text":{"field":"p","type":"quantitative"}}},
{"data":{"values":[{"x":556,"y":171.7,"ye":63.5}]},"mark":{"type":"rule","stroke":"#222","strokeWidth":1.1},"encoding":{"y2":{"field":"ye"}}},
{"data":{"name":"zt"},"transform":[{"calculate":"171.7-1.08*datum.r","as":"y"},{"calculate":"554","as":"x"},{"calculate":"559","as":"xe"}],"mark":{"type":"rule","stroke":"#222","strokeWidth":1},"encoding":{"x2":{"field":"xe"}}},
{"data":{"name":"zt"},"transform":[{"filter":"datum.l"},{"calculate":"171.7-1.08*datum.r","as":"y"},{"calculate":"563","as":"x"}],"mark":{"type":"text","fontSize":12.5,"align":"left","baseline":"middle"},"encoding":{"text":{"field":"l"}}},
{"data":{"name":"chroms"},"transform":[{"calculate":"174-8.44*(15-datum.c)-10","as":"x"},{"calculate":"171.7-9.5*(15-datum.c)-1","as":"y"}],"mark":{"type":"text","fontSize":12,"align":"right","baseline":"middle"},"encoding":{"text":{"field":"name"}}},
{"data":{"values":[{"t":"Chromosome position (%)","x":365,"y":200}]},"mark":{"type":"text","fontSize":16.2,"align":"center","baseline":"middle"},"encoding":{"text":{"field":"t"}}},
{"data":{"values":[{"t":"AS/S ratio","x":589,"y":123}]},"mark":{"type":"text","fontSize":16.2,"align":"center","baseline":"middle","angle":270},"encoding":{"text":{"field":"t"}}},
{"data":{"values":[{"t":"Chromosome","x":63,"y":112}]},"mark":{"type":"text","fontSize":16,"align":"center","baseline":"middle","angle":224},"encoding":{"text":{"field":"t"}}},
{"data":{"values":[{"t":"A","x":11,"y":32},{"t":"B","x":80,"y":249}]},"mark":{"type":"text","fontSize":16,"align":"center","baseline":"middle"},"encoding":{"text":{"field":"t"}}},
{"data":{"name":"introns"},"transform":[{"calculate":"datum.s","as":"x"},{"calculate":"datum.e","as":"xe"}],"mark":{"type":"rule","strokeWidth":1.6},"encoding":{"x2":{"field":"xe"},"color":{"field":"g","type":"nominal","legend":null}}},
{"data":{"name":"exons"},"transform":[{"calculate":"datum.s","as":"x"},{"calculate":"datum.e","as":"xe"},{"calculate":"datum.y-5.6","as":"yt"},{"calculate":"datum.y+5.6","as":"yb"}],"mark":{"type":"rect"},"encoding":{"x2":{"field":"xe"},"y":{"field":"yt","type":"quantitative","scale":{"domain":[518,0],"nice":false,"zero":false},"axis":null},"y2":{"field":"yb"},"color":{"field":"g","type":"nominal","legend":null}}},
{"data":{"values":[{"x":177,"y":262.3}]},"mark":{"type":"point","filled":true,"fill":"#a50f20","stroke":null,"opacity":1,"size":144,"shape":"M-1,0L1,-0.92L1,0.92Z"}},
{"data":{"values":[{"x":260,"y":286}]},"mark":{"type":"point","filled":true,"fill":"#a50f20","stroke":null,"opacity":1,"size":64,"shape":"M-1,0L1,-1.4L1,1.4Z"}},
{"data":{"values":[{"x":245.5,"y":286}]},"mark":{"type":"point","filled":true,"fill":"#2461ee","stroke":null,"opacity":1,"size":243,"shape":"M-1,-0.77L1,0L-1,0.77Z"}},
{"data":{"values":[{"t":"MAL7P1.175b","x":374,"y":248},{"t":"MAL7P1.175a","x":374,"y":299.5},{"t":"MAL7P1.175","x":145,"y":299.5}]},"mark":{"type":"text","fontSize":11.3,"align":"center","baseline":"middle"},"encoding":{"text":{"field":"t"}}},
{"data":{"name":"reads"},"mark":{"type":"rect"},"encoding":{"x":{"field":"s","type":"quantitative","scale":{"domain":[0,600],"nice":false,"zero":false},"axis":null},"x2":{"field":"e"},"y":{"field":"t","type":"quantitative","scale":{"domain":[518,0],"nice":false,"zero":false},"axis":null},"y2":{"field":"b"},"color":{"field":"k","type":"nominal","legend":null}}}
]
}
